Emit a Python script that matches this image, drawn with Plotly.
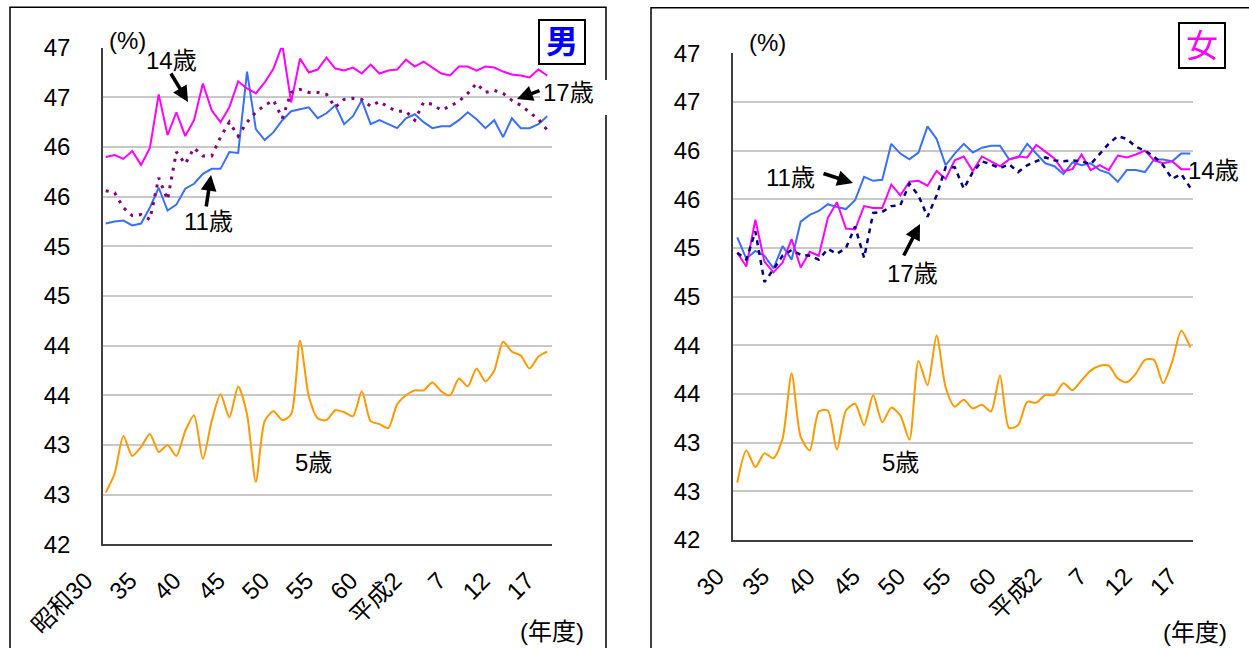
import plotly.graph_objects as go

W, H = 1249, 648

# ---------------- data ----------------
years = list(range(1955, 2006))  # 昭和30 ... 平成17 (fiscal years)

# 男
m5 = [42.52, 42.71, 43.09, 42.89, 42.98, 43.11, 42.93, 43.00, 42.89, 43.14,
      43.30, 42.86, 43.24, 43.51, 43.28, 43.59, 43.31, 42.63, 43.24, 43.34,
      43.25, 43.31, 44.05, 43.49, 43.27, 43.25, 43.35, 43.33, 43.29, 43.54,
      43.24, 43.21, 43.17, 43.41, 43.50, 43.55, 43.55, 43.63, 43.54, 43.50,
      43.67, 43.59, 43.77, 43.64, 43.75, 44.04, 43.94, 43.90, 43.77, 43.89,
      43.94]
m11 = [45.23, 45.25, 45.26, 45.21, 45.23, 45.39, 45.59, 45.36, 45.42, 45.58,
       45.63, 45.73, 45.78, 45.78, 45.95, 45.94, 46.76, 46.18, 46.07, 46.15,
       46.27, 46.36, 46.38, 46.40, 46.29, 46.34, 46.42, 46.23, 46.31, 46.47,
       46.23, 46.27, 46.23, 46.19, 46.29, 46.33, 46.25, 46.19, 46.21, 46.21,
       46.27, 46.35, 46.28, 46.19, 46.27, 46.10, 46.29, 46.19, 46.19, 46.23,
       46.31]
m14 = [45.90, 45.92, 45.88, 45.96, 45.82, 45.99, 46.53, 46.12, 46.35, 46.11,
       46.27, 46.64, 46.37, 46.25, 46.40, 46.66, 46.59, 46.54, 46.65, 46.79,
       47.03, 46.45, 46.89, 46.75, 46.78, 46.90, 46.79, 46.77, 46.80, 46.74,
       46.83, 46.74, 46.77, 46.78, 46.88, 46.81, 46.86, 46.80, 46.74, 46.72,
       46.81, 46.81, 46.77, 46.81, 46.80, 46.76, 46.73, 46.72, 46.70, 46.78,
       46.72]
m17 = [45.56, 45.54, 45.39, 45.31, 45.32, 45.27, 45.69, 45.47, 45.95, 45.83,
       45.99, 45.91, 45.91, 46.10, 46.25, 46.11, 46.25, 46.35, 46.42, 46.47,
       46.29, 46.55, 46.58, 46.55, 46.55, 46.53, 46.40, 46.48, 46.49, 46.48,
       46.41, 46.46, 46.40, 46.36, 46.36, 46.27, 46.45, 46.43, 46.37, 46.41,
       46.46, 46.54, 46.64, 46.55, 46.57, 46.54, 46.47, 46.42, 46.35, 46.28,
       46.17]

# 女
f5 = [42.59, 42.92, 42.75, 42.89, 42.84, 43.04, 43.71, 43.06, 42.92, 43.32,
      43.33, 42.93, 43.33, 43.40, 43.18, 43.49, 43.21, 43.36, 43.28, 43.03,
      43.84, 43.59, 44.10, 43.57, 43.37, 43.44, 43.35, 43.39, 43.32, 43.69,
      43.15, 43.18, 43.42, 43.41, 43.49, 43.49, 43.61, 43.54, 43.64, 43.74,
      43.79, 43.79, 43.66, 43.62, 43.71, 43.85, 43.85, 43.61, 43.83, 44.15,
      43.98]
f11 = [45.11, 44.89, 44.97, 44.92, 44.79, 45.02, 44.88, 45.27, 45.34, 45.38,
       45.45, 45.42, 45.40, 45.49, 45.73, 45.69, 45.70, 46.07, 45.97, 45.91,
       45.98, 46.25, 46.12, 45.85, 45.97, 46.07, 45.98, 46.03, 46.05, 46.05,
       45.91, 45.93, 46.07, 45.97, 45.87, 45.84, 45.76, 45.88, 45.85, 45.87,
       45.80, 45.77, 45.68, 45.80, 45.80, 45.78, 45.91, 45.91, 45.89, 45.97,
       45.97]
f14 = [44.95, 44.81, 45.29, 44.86, 44.75, 44.85, 45.09, 44.80, 44.96, 44.92,
       45.31, 45.47, 45.20, 45.19, 45.43, 45.41, 45.41, 45.65, 45.54, 45.68,
       45.69, 45.64, 45.79, 45.71, 45.90, 45.94, 45.79, 45.94, 45.89, 45.84,
       45.91, 45.94, 45.93, 46.06, 45.99, 45.92, 45.79, 45.81, 45.96, 45.80,
       45.85, 45.80, 45.95, 45.93, 45.96, 46.00, 45.90, 45.87, 45.89, 45.81,
       45.81]
f17 = [44.95, 44.88, 45.17, 44.65, 44.78, 44.92, 44.98, 44.93, 44.92, 44.88,
       44.99, 44.94, 45.00, 45.22, 44.90, 45.36, 45.37, 45.43, 45.44, 45.66,
       45.54, 45.32, 45.54, 45.83, 45.83, 45.61, 45.78, 45.89, 45.86, 45.82,
       45.86, 45.78, 45.85, 45.89, 45.93, 45.90, 45.89, 45.90, 45.89, 45.86,
       45.97, 46.07, 46.15, 46.12, 46.04, 46.00, 45.94, 45.85, 45.71, 45.76,
       45.62]

x_tickvals = [1955, 1960, 1965, 1970, 1975, 1980, 1985, 1990, 1995, 2000, 2005]
x_ticktext_m = ["昭和30", "35", "40", "45", "50", "55", "60", "平成2", "7", "12", "17"]
x_ticktext_f = ["30", "35", "40", "45", "50", "55", "60", "平成2", "7", "12", "17"]
y_tickvals = [42, 42.5, 43, 43.5, 44, 44.5, 45, 45.5, 46, 46.5, 47]
y_ticktext = ["42", "43", "43", "44", "44", "45", "45", "46", "46", "47", "47"]

# ---------------- styles ----------------
FONT = "Liberation Sans, Arial, Noto Sans CJK JP, sans-serif"
C5, C11, C14 = "#FF9900", "#3A70F5", "#FF00FF"
C17M, C17F = "#800080", "#000080"


def px(xp, yp):
    return xp / W, 1 - yp / H


fig = go.Figure()

# male panel traces
fig.add_trace(go.Scatter(x=years, y=m5, mode="lines", line=dict(color=C5, width=2, shape="spline", smoothing=0.7),
                         xaxis="x", yaxis="y", showlegend=False))
fig.add_trace(go.Scatter(x=years, y=m11, mode="lines", line=dict(color=C11, width=2),
                         xaxis="x", yaxis="y", showlegend=False))
fig.add_trace(go.Scatter(x=years, y=m14, mode="lines", line=dict(color=C14, width=2),
                         xaxis="x", yaxis="y", showlegend=False))
fig.add_trace(go.Scatter(x=years, y=m17, mode="lines", line=dict(color=C17M, width=3, dash="3px,6px"),
                         xaxis="x", yaxis="y", showlegend=False))

# female panel traces
fig.add_trace(go.Scatter(x=years, y=f5, mode="lines", line=dict(color=C5, width=2, shape="spline", smoothing=0.7),
                         xaxis="x2", yaxis="y2", showlegend=False))
fig.add_trace(go.Scatter(x=years, y=f11, mode="lines", line=dict(color=C11, width=2),
                         xaxis="x2", yaxis="y2", showlegend=False))
fig.add_trace(go.Scatter(x=years, y=f14, mode="lines", line=dict(color=C14, width=2),
                         xaxis="x2", yaxis="y2", showlegend=False))
fig.add_trace(go.Scatter(x=years, y=f17, mode="lines", line=dict(color=C17F, width=2.5, dash="5px,5px"),
                         xaxis="x2", yaxis="y2", showlegend=False))

xax_common = dict(showgrid=False, zeroline=False, showline=True, linecolor="#404040", linewidth=1.5,
                  ticks="", tickvals=x_tickvals, tickangle=-45, automargin=False,
                  tickfont=dict(family=FONT, size=24, color="#000000"),
                  ticklabelstandoff=11, ticklabelshift=-20, fixedrange=True)
yax_common = dict(showgrid=True, gridcolor="#C8C8C8", gridwidth=1.5, zeroline=False,
                  showline=True, linecolor="#404040", linewidth=1.5, ticks="", automargin=False,
                  tickvals=y_tickvals, ticktext=y_ticktext, range=[42, 47],
                  tickfont=dict(family=FONT, size=24, color="#000000"),
                  ticklabelstandoff=26, fixedrange=True)

fig.update_layout(
    width=W, height=H, autosize=False,
    margin=dict(l=0, r=0, t=0, b=0, autoexpand=False),
    paper_bgcolor="white", plot_bgcolor="white",
    xaxis=dict(xax_common, domain=[103 / W, 552 / W], range=[1954.69, 2005.54], ticktext=x_ticktext_m,
               anchor="y"),
    yaxis=dict(yax_common, domain=[1 - 544.3 / H, 1 - 47.7 / H], anchor="x"),
    xaxis2=dict(xax_common, domain=[733 / W, 1193 / W], range=[1954.53, 2005.30], ticktext=x_ticktext_f,
                anchor="y2"),
    yaxis2=dict(yax_common, domain=[1 - 540 / H, 1 - 53.3 / H], anchor="x2"),
)

# panel borders
shapes = []
x0, y0 = px(10, 7.3)
x1, _ = px(606, 0)
shapes.append(dict(type="rect", xref="paper", yref="paper", x0=x0, x1=x1, y0=-0.1, y1=y0,
                   line=dict(color="#000000", width=1.5), fillcolor="rgba(0,0,0,0)", layer="below"))
x0, y0 = px(651, 7.7)
shapes.append(dict(type="rect", xref="paper", yref="paper", x0=x0, x1=1.1, y0=-0.1, y1=y0,
                   line=dict(color="#000000", width=1.5), fillcolor="rgba(0,0,0,0)", layer="below"))
# white patch behind the 17歳 label (covers panel border)
a0, b0 = px(540, 80)
a1, b1 = px(612, 115)
shapes.append(dict(type="rect", xref="paper", yref="paper", x0=a0, x1=a1, y0=b1, y1=b0,
                   line=dict(width=0), fillcolor="white", layer="above"))
fig.update_layout(shapes=shapes)

ann = []


def text(t, xp, yp, size=24, color="#000000", **kw):
    X, Y = px(xp, yp)
    d = dict(text=t, x=X, y=Y, xref="paper", yref="paper", showarrow=False,
             xanchor="center", yanchor="middle",
             font=dict(family=FONT, size=size, color=color))
    d.update(kw)
    ann.append(d)


def arrow(tail, head):
    X, Y = px(*head)
    ann.append(dict(text="", x=X, y=Y, xref="paper", yref="paper", showarrow=True,
                    ax=tail[0] - head[0], ay=tail[1] - head[1], axref="pixel", ayref="pixel",
                    arrowhead=2, arrowsize=0.9, arrowwidth=3.5, arrowcolor="#000000"))


# male labels
text("(%)", 127, 40)
text("(年度)", 552, 631)
text("14歳", 172, 61)
arrow((170, 72), (188, 102))
text("11歳", 208, 222)
arrow((206, 208), (211, 175))
text("17歳", 568, 93)
arrow((541, 90), (517, 99))
text("5歳", 313, 463)
text("<b>男</b>", 561.5, 41.5, size=32, color="#0000FF",
     bordercolor="#000000", borderwidth=2, bgcolor="white", width=44, height=42, borderpad=0)

# female labels
text("(%)", 767, 43)
text("(年度)", 1195, 632)
text("11歳", 790, 177)
arrow((822, 173), (853, 183))
text("17歳", 912, 273)
arrow((903, 257), (920, 224))
text("14歳", 1213, 171)
text("5歳", 900, 463)
text("女", 1201.5, 45.3, size=32, color="#FF00FF",
     bordercolor="#000000", borderwidth=2, bgcolor="white", width=44, height=43, borderpad=0)

fig.update_layout(annotations=ann)

fig.write_html("out.html", include_plotlyjs=True, config={"displayModeBar": False},
               post_script="document.body.style.margin='0';document.body.style.overflow='hidden';")
